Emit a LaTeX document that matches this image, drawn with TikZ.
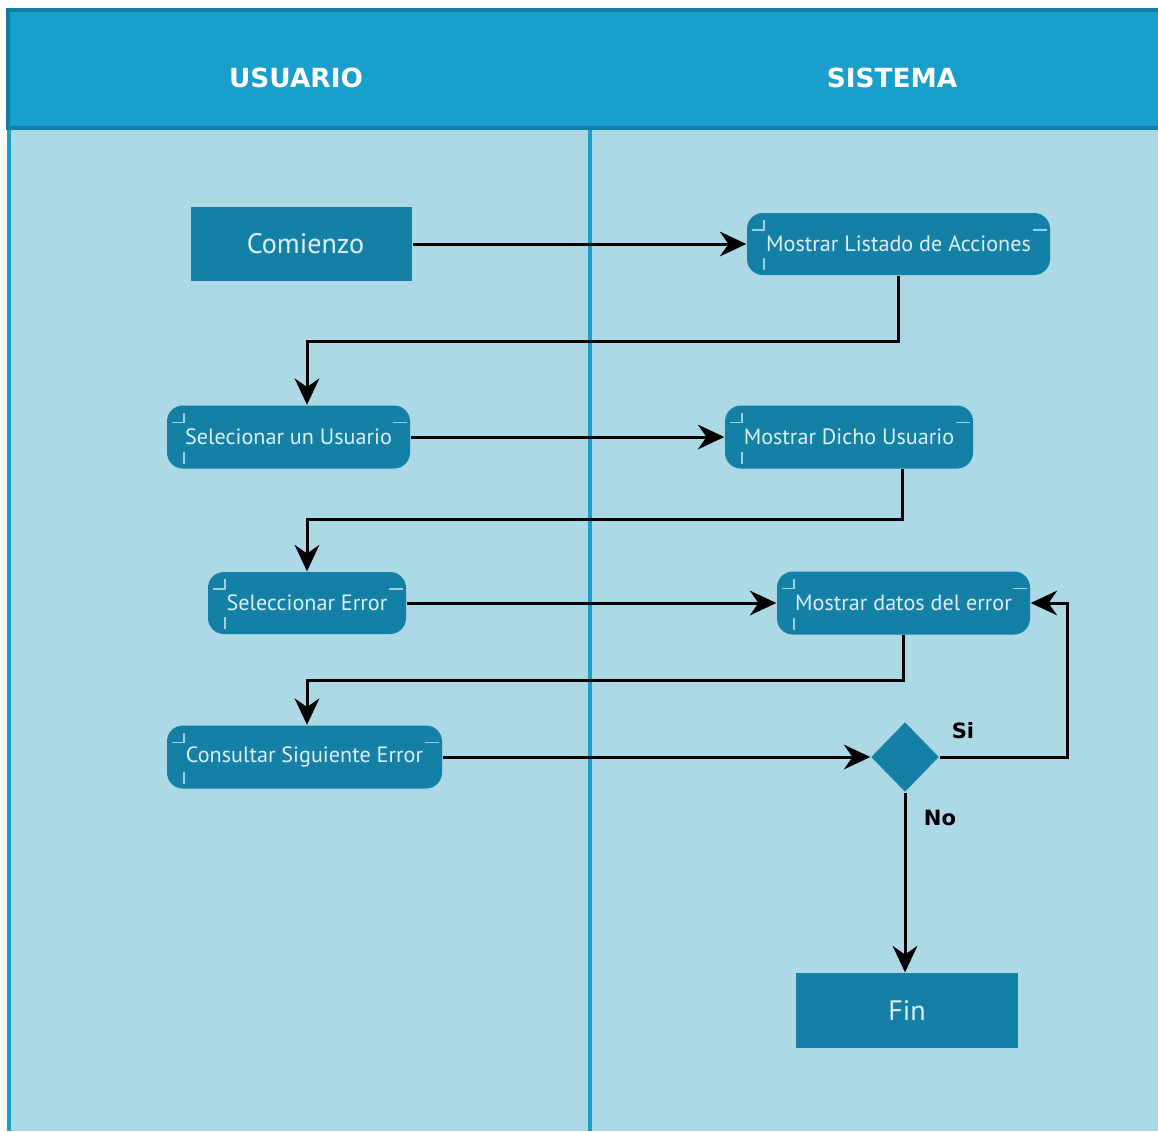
\documentclass[tikz,border=0pt]{standalone}
\usepackage{fontspec}
\setmainfont{PT Sans}
\newfontfamily\headfont{DejaVu Sans}
\usepackage{xcolor}
\usetikzlibrary{shapes.geometric,arrows.meta,calc}
\definecolor{HeadBlue}{HTML}{1A9FCC}
\definecolor{HeadEdge}{HTML}{137EA3}
\definecolor{LaneBlue}{HTML}{ADD8E6}
\definecolor{BoxBlue}{HTML}{1580A5}
\definecolor{BoxText}{HTML}{DCEFF5}
\definecolor{MarkBlue}{HTML}{9CCFE0}
\tikzset{
  lane/.style={fill=LaneBlue},
  header/.style={fill=HeadBlue, draw=HeadEdge, line width=1.2pt},
  divider/.style={draw=HeadBlue, line width=1.3pt},
  lanetitle/.style={white, font=\headfont\bfseries\fontsize{7.5}{9}\selectfont},
  terminal/.style={rectangle, fill=BoxBlue, text=BoxText, inner sep=0pt,
    font=\fontsize{8}{10}\selectfont},
  action/.style={rectangle, rounded corners=4.5pt, fill=BoxBlue, text=BoxText,
    inner sep=0pt, font=\fontsize{6.3}{7.5}\selectfont,
    path picture={
      \draw[MarkBlue, line width=0.5pt, sharp corners]
        ($(path picture bounding box.north west)+(0.05,-0.17)$) -- ++(0.12,0) -- ++(0,0.10)
        ($(path picture bounding box.north east)+(-0.17,-0.17)$) -- ++(0.14,0)
        ($(path picture bounding box.south west)+(0.17,0.17)$) -- ++(0,-0.12);
    }},
  choice/.style={diamond, fill=BoxBlue, inner sep=0pt, minimum width=0.68cm, minimum height=0.70cm},
  flow/.style={-{Stealth[length=7.5pt,width=7pt]}, draw=black, line width=0.85pt},
  guard/.style={black, font=\headfont\bfseries\fontsize{6}{7}\selectfont}
}

\begin{document}
\begin{tikzpicture}
  \useasboundingbox[fill=white] (0,0) rectangle (11.58,-11.31);
  % swimlanes
  \fill[lane] (0.08,-1.28) rectangle (11.58,-11.31);
  \draw[divider] (0.09,-1.28) -- (0.09,-11.31);
  \draw[header] (0.08,-0.10) rectangle (11.70,-1.28);
  \draw[divider] (5.90,-1.30) -- (5.90,-11.31);
  \node[lanetitle] (usr) at (2.96,-0.78) {USUARIO};
  \node[lanetitle] (sys) at (8.92,-0.78) {SISTEMA};

  % actions
  \node[terminal, minimum width=2.21cm, minimum height=0.74cm] (inicio) at (3.015,-2.44) {\hspace{0.08cm}Comienzo};
  \node[action, minimum width=3.03cm, minimum height=0.62cm] (lista) at (8.985,-2.44) {Mostrar Listado de Acciones};
  \node[action, minimum width=2.43cm, minimum height=0.63cm] (selus) at (2.885,-4.37) {Selecionar un Usuario};
  \node[action, minimum width=2.48cm, minimum height=0.63cm] (dicho) at (8.49,-4.37) {Mostrar Dicho Usuario};
  \node[action, minimum width=1.98cm, minimum height=0.62cm] (selerr) at (3.07,-6.03) {Seleccionar Error};
  \node[action, minimum width=2.53cm, minimum height=0.63cm] (datos) at (9.035,-6.03) {Mostrar datos del error};
  \node[action, minimum width=2.75cm, minimum height=0.63cm] (consul) at (3.045,-7.57) {Consultar Siguiente Error};
  \node[choice] (dec) at (9.05,-7.57) {};
  \node[terminal, minimum width=2.22cm, minimum height=0.75cm] (fin) at (9.07,-10.105) {Fin};

  % flows
  \draw[flow] (inicio.east) -- (lista.west);
  \draw[flow] (lista.south) -- ++(0,-0.66) -| (selus.north -| selerr.north);
  \draw[flow] (selus.east) -- (dicho.west);
  \draw[flow] ([xshift=5.3mm]dicho.south) -- ++(0,-0.5) -| (selerr.north);
  \draw[flow] (selerr.east) -- (datos.west);
  \draw[flow] (datos.south) -- ++(0,-0.45) -| (consul.north -| selerr.north);
  \draw[flow] (consul.east) -- (dec.west);
  \draw[flow] (dec.east) -- ++(1.28,0) |- (datos.east);
  \draw[flow] (dec.south) -- (dec.south |- fin.north);
  \node[guard] (si) at (9.63,-7.31) {Si};
  \node[guard] (no) at (9.40,-8.18) {No};
\end{tikzpicture}
\end{document}
